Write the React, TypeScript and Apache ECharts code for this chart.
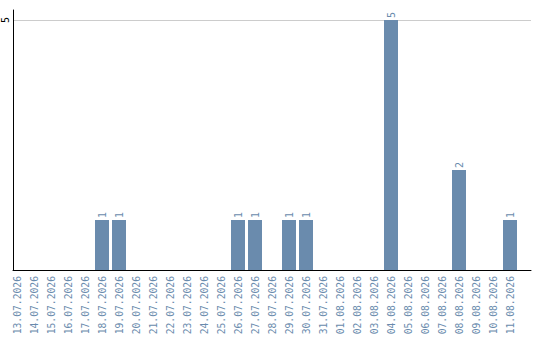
import React, { useEffect, useRef } from "react";
import * as echarts from "echarts";

const dates = [
  "13.07.2026", "14.07.2026", "15.07.2026", "16.07.2026", "17.07.2026",
  "18.07.2026", "19.07.2026", "20.07.2026", "21.07.2026", "22.07.2026",
  "23.07.2026", "24.07.2026", "25.07.2026", "26.07.2026", "27.07.2026",
  "28.07.2026", "29.07.2026", "30.07.2026", "31.07.2026", "01.08.2026",
  "02.08.2026", "03.08.2026", "04.08.2026", "05.08.2026", "06.08.2026",
  "07.08.2026", "08.08.2026", "09.08.2026", "10.08.2026", "11.08.2026",
];

const counts = [
  0, 0, 0, 0, 0,
  1, 1, 0, 0, 0,
  0, 0, 0, 1, 1,
  0, 1, 1, 0, 0,
  0, 0, 5, 0, 0,
  0, 2, 0, 0, 1,
];

const yMax = 5.2;
const yStep = 5;

const BAR = "#6a8bad";
const FONT = "DejaVu Sans Mono";

export default function App() {
  const ref = useRef<HTMLDivElement>(null);

  useEffect(() => {
    if (!ref.current) return;
    const chart = echarts.init(ref.current, null, { renderer: "svg" });
    chart.setOption({
      animation: false,
      grid: [
        // frame: axis lines and the gridline
        { left: 10, right: 9, top: 10, bottom: 70 },
        // bars and date labels
        { left: 8.5, right: 21.5, top: 10, bottom: 70 },
      ],
      xAxis: [
        {
          gridIndex: 0,
          type: "value",
          min: 0,
          max: 1,
          axisLine: { show: true, onZero: false, lineStyle: { color: "#000", width: 1 } },
          axisTick: { show: false },
          axisLabel: { show: false },
          splitLine: { show: false },
        },
        {
          gridIndex: 1,
          type: "category",
          data: dates,
          axisLine: { show: false },
          axisTick: { show: false },
          axisLabel: {
            interval: 0,
            rotate: 90,
            margin: 6,
            color: BAR,
            fontFamily: FONT,
            fontSize: 9.7,
          },
        },
      ],
      yAxis: [
        {
          gridIndex: 0,
          type: "value",
          min: 0,
          max: yMax,
          interval: yStep,
          axisLine: { show: true, lineStyle: { color: "#000", width: 1 } },
          axisTick: { show: false },
          axisLabel: {
            rotate: 90,
            margin: 3,
            color: "#000",
            fontFamily: FONT,
            fontSize: 10,
            showMinLabel: false,
            showMaxLabel: false,
          },
          splitLine: {
            show: true,
            showMinLine: false,
            showMaxLine: false,
            lineStyle: { color: "#cccccc", width: 1 },
          },
        },
        {
          gridIndex: 1,
          type: "value",
          min: 0,
          max: yMax,
          show: false,
          splitLine: { show: false },
        },
      ],
      series: [
        {
          type: "bar",
          xAxisIndex: 1,
          yAxisIndex: 1,
          data: counts.map((v) => (v > 0 ? v : null)),
          barWidth: 14,
          itemStyle: { color: BAR },
          label: {
            show: true,
            position: "top",
            rotate: 90,
            align: "left",
            verticalAlign: "middle",
            distance: 2,
            color: BAR,
            fontFamily: FONT,
            fontSize: 10,
          },
        },
      ],
    });
    return () => chart.dispose();
  }, []);

  return (
    <div
      ref={ref}
      style={{ position: "fixed", left: 0, top: 0, width: 540, height: 340, background: "#fff" }}
    />
  );
}
